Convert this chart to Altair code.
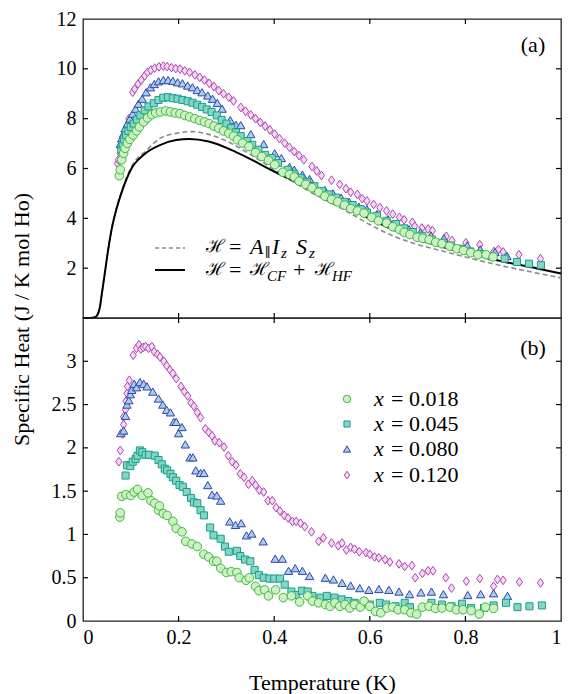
import altair as alt
import pandas as pd

FONT = "Liberation Serif, Times New Roman, DejaVu Serif, serif"
W, HT, HB = 478, 299, 303

# ---------------- (a) model curves ----------------
full_T = [0, 0.015, 0.025, 0.03, 0.035, 0.04, 0.046, 0.053, 0.06, 0.07, 0.083, 0.1, 0.127, 0.161, 0.195,
          0.222, 0.263, 0.32, 0.4, 0.486, 0.55, 0.6, 0.642, 0.7, 0.75, 0.82, 0.885, 0.95, 1.0]
full_C = [0, 0, 0.03, 0.12, 0.4, 1.05, 1.85, 2.78, 3.57, 4.37, 5.16, 5.95, 6.55, 6.94, 7.14,
          7.18, 7.08, 6.66, 5.88, 5.09, 4.47, 3.98, 3.6, 3.17, 2.87, 2.52, 2.24, 1.99, 1.79]
dash_T = [0, 0.015, 0.025, 0.03, 0.035, 0.04, 0.046, 0.053, 0.06, 0.07, 0.083, 0.1, 0.134, 0.161, 0.195,
          0.229, 0.263, 0.31, 0.357, 0.42, 0.486, 0.55, 0.6, 0.642, 0.7, 0.75, 0.82, 0.885, 0.95, 1.0]
dash_C = [0, 0, 0.03, 0.12, 0.4, 1.05, 1.85, 2.78, 3.57, 4.4, 5.22, 6.02, 6.75, 7.21, 7.41,
          7.48, 7.37, 7.01, 6.48, 5.7, 4.95, 4.3, 3.75, 3.35, 2.95, 2.7, 2.35, 2.06, 1.8, 1.61]

# ---------------- (a) measured ----------------
a018_T = [0.076, 0.078, 0.081, 0.085, 0.088, 0.093, 0.098, 0.105, 0.112, 0.118,
          0.127, 0.135, 0.144, 0.152, 0.162, 0.173, 0.183, 0.193, 0.203, 0.213,
          0.223, 0.234, 0.244, 0.254, 0.264, 0.274, 0.284, 0.294, 0.305, 0.315,
          0.323, 0.334, 0.347, 0.361, 0.374, 0.388, 0.401, 0.418, 0.432, 0.442,
          0.452, 0.466, 0.479, 0.493, 0.506, 0.52, 0.533, 0.547, 0.56, 0.574,
          0.588, 0.604, 0.618, 0.635, 0.648, 0.662, 0.672, 0.684, 0.699, 0.711,
          0.724, 0.738, 0.751, 0.767, 0.782, 0.796, 0.811, 0.826, 0.843, 0.858]
a018_C = [5.71, 5.95, 6.35, 6.61, 6.81, 7.01, 7.17, 7.34, 7.51, 7.67,
          7.87, 8.03, 8.16, 8.23, 8.27, 8.31, 8.27, 8.23, 8.20, 8.13,
          8.07, 8.0, 7.93, 7.87, 7.80, 7.70, 7.61, 7.51, 7.41, 7.30,
          7.15, 7.02, 6.88, 6.64, 6.48, 6.33, 6.15, 5.85, 5.76, 5.66,
          5.49, 5.36, 5.23, 5.05, 4.89, 4.76, 4.66, 4.53, 4.39, 4.30,
          4.21, 4.04, 3.90, 3.81, 3.66, 3.55, 3.44, 3.35, 3.24, 3.20,
          3.14, 3.04, 2.98, 2.88, 2.78, 2.71, 2.62, 2.54, 2.54, 2.45]
a045_T = [0.08, 0.083, 0.086, 0.09, 0.095, 0.10, 0.106, 0.113, 0.12, 0.129,
          0.137, 0.148, 0.158, 0.168, 0.178, 0.188, 0.198, 0.208, 0.219, 0.229,
          0.239, 0.249, 0.259, 0.269, 0.28, 0.29, 0.30, 0.31, 0.32, 0.33,
          0.344, 0.354, 0.367, 0.381, 0.395, 0.408, 0.428, 0.442, 0.455, 0.469,
          0.484, 0.5, 0.514, 0.53, 0.547, 0.564, 0.581, 0.594, 0.615, 0.635,
          0.655, 0.672, 0.69, 0.71, 0.73, 0.75, 0.77, 0.79, 0.81, 0.83,
          0.855, 0.882, 0.908, 0.933, 0.958]
a045_C = [6.75, 6.95, 7.17, 7.34, 7.51, 7.67, 7.80, 7.96, 8.13, 8.33,
          8.49, 8.62, 8.75, 8.84, 8.86, 8.82, 8.80, 8.75, 8.70, 8.64,
          8.56, 8.47, 8.37, 8.27, 8.13, 7.95, 7.8, 7.62, 7.45, 7.3,
          7.1, 6.95, 6.75, 6.55, 6.42, 6.22, 5.95, 5.78, 5.62, 5.45,
          5.29, 5.1, 4.96, 4.83, 4.66, 4.53, 4.37, 4.23, 4.10, 3.90,
          3.77, 3.6, 3.45, 3.3, 3.15, 3.02, 2.9, 2.78, 2.67, 2.57,
          2.47, 2.38, 2.25, 2.18, 2.12]
a080_T = [0.078, 0.081, 0.085, 0.088, 0.093, 0.098, 0.104, 0.11, 0.116, 0.124,
          0.132, 0.141, 0.149, 0.158, 0.168, 0.178, 0.188, 0.198, 0.208, 0.219,
          0.229, 0.239, 0.249, 0.261, 0.271, 0.281, 0.291, 0.308, 0.32, 0.33,
          0.351, 0.378, 0.401, 0.415, 0.432, 0.442, 0.459, 0.474, 0.506, 0.523,
          0.54, 0.557, 0.577, 0.594, 0.615, 0.638, 0.659, 0.682, 0.706, 0.728,
          0.755, 0.804, 0.831, 0.862, 0.887]
a080_C = [6.98, 7.21, 7.41, 7.61, 7.80, 8.0, 8.20, 8.40, 8.60, 8.80,
          9.06, 9.26, 9.39, 9.50, 9.55, 9.55, 9.52, 9.46, 9.42, 9.33,
          9.26, 9.15, 9.06, 8.93, 8.80, 8.63, 8.40, 7.94, 7.75, 7.74,
          7.38, 6.98, 6.61, 6.42, 6.06, 5.95, 5.75, 5.58, 5.13, 5.0,
          4.83, 4.66, 4.47, 4.37, 4.17, 3.97, 3.71, 3.57, 3.44, 3.31,
          3.20, 2.91, 2.75, 2.65, 2.49]
a120_T = [0.072, 0.074, 0.078, 0.081, 0.085, 0.088, 0.091, 0.096, 0.104, 0.108,
          0.115, 0.122, 0.129, 0.135, 0.142, 0.15, 0.159, 0.168, 0.176, 0.185,
          0.194, 0.203, 0.213, 0.223, 0.234, 0.244, 0.254, 0.264, 0.274, 0.284,
          0.294, 0.305, 0.315, 0.33, 0.34, 0.351, 0.361, 0.371, 0.381, 0.391,
          0.401, 0.411, 0.422, 0.432, 0.442, 0.452, 0.462, 0.479, 0.489, 0.499,
          0.52, 0.537, 0.55, 0.56, 0.574, 0.584, 0.594, 0.608, 0.621, 0.635,
          0.648, 0.662, 0.672, 0.689, 0.694, 0.709, 0.722, 0.731, 0.76, 0.772,
          0.801, 0.83, 0.86, 0.869, 0.879, 0.912, 0.957]
a120_C = [6.2, 6.35, 6.61, 6.88, 7.14, 7.41, 7.67, 8.0, 9.06, 9.19,
          9.39, 9.55, 9.72, 9.86, 9.95, 10.03, 10.08, 10.11, 10.09, 10.05,
          10.01, 9.99, 9.92, 9.86, 9.76, 9.66, 9.55, 9.42, 9.29, 9.13,
          9.0, 8.86, 8.71, 8.45, 8.3, 8.15, 8.0, 7.85, 7.7, 7.55,
          7.38, 7.2, 7.02, 6.85, 6.68, 6.52, 6.35, 6.08, 5.90, 5.72,
          5.53, 5.36, 5.19, 5.05, 4.96, 4.79, 4.70, 4.56, 4.43, 4.30,
          4.17, 4.04, 3.94, 3.84, 3.68, 3.61, 3.57, 3.51, 3.28, 3.11,
          3.02, 2.94, 2.67, 2.75, 2.65, 2.54, 2.38]

# ---------------- (b) measured ----------------
b018_T = [0.077, 0.078, 0.081, 0.09, 0.10, 0.107, 0.114, 0.124, 0.136, 0.142,
          0.150, 0.158, 0.160, 0.168, 0.176, 0.188, 0.195, 0.207, 0.215, 0.228,
          0.239, 0.253, 0.263, 0.273, 0.28, 0.288, 0.30, 0.31, 0.322, 0.327,
          0.341, 0.348, 0.361, 0.368, 0.38, 0.388, 0.403, 0.419, 0.436, 0.453,
          0.47, 0.48,
          0.493, 0.507, 0.517, 0.527, 0.537, 0.548, 0.558, 0.568, 0.580, 0.588,
          0.600, 0.612, 0.623, 0.636, 0.648, 0.659, 0.673, 0.686, 0.698, 0.710,
          0.724, 0.737, 0.751, 0.768, 0.781, 0.795, 0.812, 0.829, 0.842, 0.859]
b018_C = [1.20, 1.25, 1.44, 1.46, 1.45, 1.49, 1.52, 1.45, 1.48, 1.39,
          1.36, 1.28, 1.33, 1.24, 1.22, 1.15, 1.07, 1.03, 0.92, 0.89,
          0.86, 0.77, 0.74, 0.69, 0.69, 0.61, 0.56, 0.57, 0.56, 0.50,
          0.47, 0.50, 0.40, 0.35, 0.36, 0.29, 0.36, 0.27, 0.29, 0.22,
          0.29, 0.23,
          0.21, 0.19, 0.17, 0.21, 0.17, 0.19, 0.15, 0.19, 0.16, 0.23,
          0.17, 0.11, 0.095, 0.15, 0.16, 0.13, 0.13, 0.095, 0.08, 0.16,
          0.17, 0.145, 0.15, 0.16, 0.13, 0.13, 0.12, 0.08, 0.16, 0.145]
b045_T = [0.089, 0.092, 0.099, 0.104, 0.11, 0.114, 0.119, 0.124, 0.131, 0.138,
          0.15, 0.158, 0.165, 0.171, 0.176, 0.183, 0.188, 0.195, 0.202, 0.209,
          0.217, 0.226, 0.232, 0.239, 0.246, 0.253, 0.266, 0.273, 0.288, 0.297,
          0.305, 0.322, 0.329, 0.339, 0.35, 0.359, 0.368, 0.378, 0.39, 0.40,
          0.412, 0.422, 0.436, 0.446, 0.458, 0.47, 0.48,
          0.497, 0.510, 0.526, 0.541, 0.555, 0.568, 0.600, 0.621, 0.634, 0.654,
          0.673, 0.684, 0.729, 0.751, 0.771, 0.793, 0.812, 0.839, 0.859, 0.885,
          0.909, 0.934, 0.960]
b045_C = [1.68, 1.80, 1.79, 1.84, 1.87, 1.91, 1.97, 1.95, 1.92, 1.92,
          1.91, 1.86, 1.81, 1.76, 1.74, 1.70, 1.66, 1.62, 1.57, 1.55,
          1.49, 1.42, 1.37, 1.36, 1.28, 1.22, 1.08, 0.99, 0.95, 0.86,
          0.80, 0.81, 0.75, 0.71, 0.69, 0.59, 0.53, 0.50, 0.49, 0.49,
          0.49, 0.42, 0.34, 0.30, 0.35, 0.34, 0.29,
          0.27, 0.29, 0.27, 0.25, 0.23, 0.21, 0.19, 0.21, 0.19, 0.17,
          0.21, 0.16, 0.21, 0.19, 0.17, 0.20, 0.15, 0.15, 0.18, 0.21,
          0.16, 0.17, 0.18]
b080_T = [0.079, 0.085, 0.089, 0.092, 0.096, 0.099, 0.102, 0.107, 0.112, 0.119,
          0.127, 0.134, 0.146, 0.158, 0.167, 0.175, 0.183, 0.19, 0.195, 0.20,
          0.207, 0.214, 0.224, 0.23, 0.236, 0.246, 0.253, 0.261, 0.27, 0.28,
          0.288, 0.307, 0.319, 0.331, 0.342, 0.353, 0.377, 0.402, 0.417, 0.43,
          0.444, 0.459, 0.474,
          0.507, 0.524, 0.542, 0.56, 0.579, 0.598, 0.619, 0.640, 0.661, 0.683,
          0.707, 0.729, 0.754, 0.805, 0.832, 0.859, 0.888]
b080_C = [2.17, 2.20, 2.37, 2.50, 2.55, 2.62, 2.67, 2.74, 2.70, 2.76,
          2.74, 2.71, 2.65, 2.57, 2.50, 2.44, 2.41, 2.30, 2.30, 2.17,
          2.24, 2.04, 1.89, 1.89, 1.74, 1.71, 1.71, 1.57, 1.46, 1.45,
          1.39, 1.15, 1.11, 1.13, 0.99, 1.01, 0.92, 0.72, 0.72, 0.58,
          0.61, 0.58, 0.52,
          0.50, 0.48, 0.44, 0.41, 0.38, 0.36, 0.37, 0.36, 0.34, 0.31,
          0.33, 0.34, 0.31, 0.30, 0.31, 0.32, 0.29]
b120_T = [0.075, 0.078, 0.083, 0.085, 0.085, 0.089, 0.09, 0.092, 0.093, 0.097,
          0.105, 0.112, 0.117, 0.121, 0.126, 0.131, 0.137, 0.144, 0.149, 0.156,
          0.161, 0.169, 0.175, 0.182, 0.188, 0.195, 0.205, 0.212, 0.219, 0.226,
          0.232, 0.239, 0.246, 0.256, 0.263, 0.27, 0.276, 0.285, 0.295, 0.304,
          0.312, 0.32, 0.329, 0.337, 0.346, 0.354, 0.361, 0.369, 0.378, 0.387,
          0.396, 0.404, 0.412, 0.421, 0.429, 0.438, 0.446, 0.455, 0.464, 0.478,
          0.493, 0.503, 0.520, 0.534, 0.542, 0.551, 0.560, 0.568, 0.578, 0.592,
          0.600, 0.610, 0.619, 0.632, 0.642, 0.661, 0.673, 0.688, 0.695, 0.710,
          0.722, 0.732, 0.759, 0.771, 0.802, 0.830, 0.859, 0.867, 0.879, 0.913,
          0.957]
b120_C = [1.84, 1.97, 2.16, 2.27, 2.36, 2.44, 2.54, 2.63, 2.71, 2.78,
          3.07, 3.15, 3.19, 3.14, 3.16, 3.17, 3.15, 3.17, 3.11, 3.08,
          3.05, 3.00, 2.95, 2.90, 2.86, 2.80, 2.71, 2.65, 2.60, 2.52,
          2.48, 2.41, 2.35, 2.22, 2.18, 2.14, 2.08, 2.06, 2.01, 1.91,
          1.84, 1.80, 1.70, 1.66, 1.58, 1.62, 1.57, 1.51, 1.49, 1.39,
          1.39, 1.31, 1.27, 1.22, 1.19, 1.15, 1.15, 1.13, 1.09, 1.03,
          0.92, 0.96, 0.90, 0.87, 0.90, 0.82, 0.85, 0.83, 0.80, 0.79,
          0.77, 0.74, 0.73, 0.71, 0.68, 0.66, 0.63, 0.64, 0.50, 0.55,
          0.58, 0.58, 0.50, 0.38, 0.46, 0.49, 0.40, 0.48, 0.47, 0.45,
          0.44]

series_values = ["0.018", "0.045", "0.080", "0.120"]
x_ticks = [0.2, 0.4, 0.6, 0.8]
x_labels = [0, 0.2, 0.4, 0.6, 0.8, 1.0]
top_ticks = [2, 4, 6, 8, 10]
top_labels = [2, 4, 6, 8, 10, 12]
bot_ticks = [0.5, 1, 1.5, 2, 2.5, 3]
bot_labels = [0, 0.5, 1, 1.5, 2, 2.5, 3]

# styles: (shape, size, stroke, fill)
DIAMOND = "M0,-1L0.72,0L0,1L-0.72,0Z"
STYLES = [
    ("circle", 74, "#3fb83f", "#cdf1c4"),
    ("square", 50, "#14a08a", "#86d4c4"),
    ("triangle-up", 70, "#3144a6", "#a9cdee"),
    (DIAMOND, 76, "#ad45ad", "#f5d8f5"),
]

XS = alt.Scale(domain=[0, 1], nice=False, zero=False)
YT = alt.Scale(domain=[0, 12], nice=False, zero=False)
YB = alt.Scale(domain=[0, 3.5], nice=False, zero=False)


def frame(t, c):
    assert len(t) == len(c)
    return pd.DataFrame({"T": t, "C": c})


def points(t, c, ys, style):
    shape, size, stroke, fill = style
    return alt.Chart(frame(t, c)).mark_point(
        shape=shape, size=size, filled=True, fill=fill, fillOpacity=1,
        stroke=stroke, strokeWidth=1, opacity=1
    ).encode(x=alt.X("T:Q", scale=XS, axis=None), y=alt.Y("C:Q", scale=ys, axis=None))


def curve(t, c, ys, color, width, dash=None):
    kw = dict(color=color, strokeWidth=width, interpolate="monotone")
    if dash:
        kw["strokeDash"] = dash
    return alt.Chart(frame(t, c)).mark_line(**kw).encode(
        x=alt.X("T:Q", scale=XS, axis=None), y=alt.Y("C:Q", scale=ys, axis=None))


def text(s, x, y, size=22, italic=False, align="left"):
    return alt.Chart(pd.DataFrame({"s": [s]})).mark_text(
        align=align, baseline="middle", font=FONT, fontSize=size,
        fontStyle="italic" if italic else "normal", color="black"
    ).encode(x=alt.value(x), y=alt.value(y), text="s:N")


def inner_ticks(ys, yticks, height):
    """Inward ticks on all four sides, placed through the scales."""
    xt = pd.DataFrame({"T": x_ticks})
    yt = pd.DataFrame({"C": yticks})
    rule = dict(color="black", strokeWidth=1.2)
    X = alt.X("T:Q", scale=XS, axis=None)
    Y = alt.Y("C:Q", scale=ys, axis=None)
    return [
        alt.Chart(xt).mark_rule(**rule).encode(x=X, y=alt.value(height - 5), y2=alt.value(height)),
        alt.Chart(xt).mark_rule(**rule).encode(x=X, y=alt.value(0), y2=alt.value(5)),
        alt.Chart(yt).mark_rule(**rule).encode(y=Y, x=alt.value(0), x2=alt.value(5)),
        alt.Chart(yt).mark_rule(**rule).encode(y=Y, x=alt.value(W - 5), x2=alt.value(W)),
    ]


def label_axes(ys, labels, show_x, x_title=None, y_title=None, height=HT, title_y=HT):
    base = alt.Chart(pd.DataFrame({"T": [0.5], "C": [1.0]})).mark_point(opacity=0)
    xa = dict(values=x_labels, labels=show_x, ticks=False, domain=False, grid=False, format="~g",
              labelFont=FONT, labelFontSize=20, labelColor="black", labelPadding=6,
              minExtent=0)
    if x_title:
        xa.update(title=x_title, titleFont=FONT, titleFontSize=22, titleFontWeight="normal",
                  titleColor="black", titlePadding=25)
    else:
        xa["title"] = None
    ya = dict(values=labels, ticks=False, tickSize=0, domain=False, grid=False, format="~g",
              labelFont=FONT, labelFontSize=20, labelColor="black", labelPadding=7,
              minExtent=0)
    if y_title:
        ya.update(title=y_title, titleFont=FONT, titleFontSize=22, titleFontWeight="normal",
                  titleColor="black", titleX=-62, titleY=title_y, titleAngle=270,
                  titleAlign="center", titleBaseline="middle")
    else:
        ya["title"] = None
    return base.encode(x=alt.X("T:Q", scale=XS, axis=alt.Axis(**xa)),
                       y=alt.Y("C:Q", scale=ys, axis=alt.Axis(**ya)))


# ---------------- top panel ----------------
L1, L2 = 228, 251
top_layers = [
    curve(dash_T, dash_C, YT, "#8c8c8c", 1.6, [5, 3]),
    curve(full_T, full_C, YT, "black", 2.0),
    points(a120_T, a120_C, YT, STYLES[3]),
    points(a080_T, a080_C, YT, STYLES[2]),
    points(a045_T, a045_C, YT, STYLES[1]),
    points(a018_T, a018_C, YT, STYLES[0]),
    alt.Chart(pd.DataFrame({"k": [0]})).mark_rule(color="#8c8c8c", strokeWidth=1.6, strokeDash=[4, 3]).encode(
        x=alt.value(72), x2=alt.value(102), y=alt.value(L1 + 1)),
    alt.Chart(pd.DataFrame({"k": [0]})).mark_rule(color="black", strokeWidth=2).encode(
        x=alt.value(72), x2=alt.value(102), y=alt.value(L2)),
    # line 1: H = A_|| I_z S_z
    text("ℋ", 123, L1, size=18), text("=", 146, L1), text("A", 167, L1, italic=True),
    text("∥", 182, L1 + 6, size=13), text("I", 189, L1, italic=True), text("z", 198, L1 + 6, size=15, italic=True),
    text("S", 213, L1, italic=True), text("z", 226, L1 + 6, size=15, italic=True),
    # line 2: H = H_CF + H_HF
    text("ℋ", 123, L2, size=18), text("=", 146, L2), text("ℋ", 167, L2, size=18),
    text("CF", 184, L2 + 6, size=15, italic=True), text("+", 210, L2),
    text("ℋ", 232, L2, size=18), text("HF", 249, L2 + 6, size=15, italic=True),
    text("(a)", W - 28, 26, align="center"),
]
top = alt.layer(label_axes(YT, top_labels, False, y_title="Specific Heat (J / K mol Ho)",
                           height=HT, title_y=HT + 1),
                *top_layers, *inner_ticks(YT, top_ticks, HT)
                ).properties(width=W, height=HT).resolve_axis(x="independent", y="independent")

# ---------------- bottom panel ----------------
leg_y = [81, 106, 131, 157]
bot_layers = [
    points(b120_T, b120_C, YB, STYLES[3]),
    points(b080_T, b080_C, YB, STYLES[2]),
    points(b045_T, b045_C, YB, STYLES[1]),
    points(b018_T, b018_C, YB, STYLES[0]),
]
for i, (val, st) in enumerate(zip(series_values, STYLES)):
    shape, size, stroke, fill = st
    bot_layers.append(
        alt.Chart(pd.DataFrame({"k": [0]})).mark_point(
            shape=shape, size=size * 0.75, filled=True, fill=fill, fillOpacity=1,
            stroke=stroke, strokeWidth=1, opacity=1
        ).encode(x=alt.value(264), y=alt.value(leg_y[i])))
    bot_layers.append(text("x", 291, leg_y[i], italic=True))
    bot_layers.append(text("= " + val, 308, leg_y[i]))
bot_layers.append(text("(b)", W - 28, 30, align="center"))

bottom = alt.layer(label_axes(YB, bot_labels, True, x_title="Temperature (K)", height=HB),
                   *bot_layers, *inner_ticks(YB, bot_ticks, HB)
                   ).properties(width=W, height=HB).resolve_axis(x="independent", y="independent")

chart = alt.vconcat(top, bottom, spacing=0, bounds="flush").properties(
    padding={"left": 1, "top": 0, "right": 0, "bottom": 0}
).configure_view(stroke="#222222", strokeWidth=1.3).configure_axis(grid=False)

chart.save("out.html", embed_options={"renderer": "svg", "actions": False})
